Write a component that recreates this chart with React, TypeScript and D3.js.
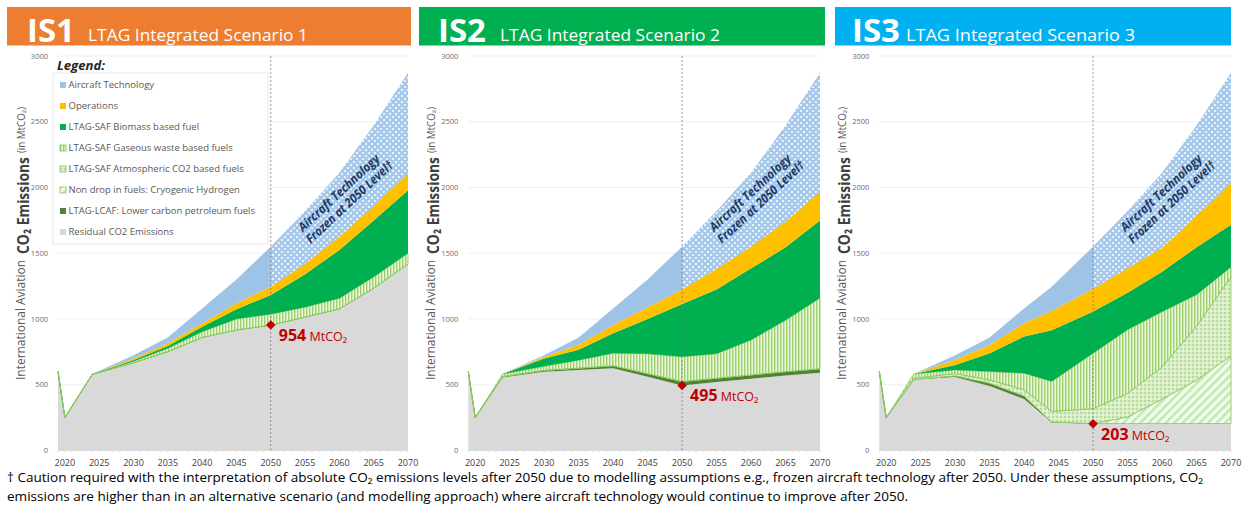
import * as d3 from "d3";

// years that carry a data point (IS3 has its knee one year earlier)
const years = [2019, 2020, 2024, 2030, 2035, 2040, 2045, 2050, 2055, 2060, 2065, 2070];
const yearsIS3 = [2019, 2020, 2024, 2030, 2035, 2040, 2044, 2050, 2055, 2060, 2065, 2070];
const xTickYears = [2020, 2025, 2030, 2035, 2040, 2045, 2050, 2055, 2060, 2065, 2070];
const yTickValues = [0, 500, 1000, 1500, 2000, 2500, 3000];

// stack order, bottom to top
const layerKeys = ["residual", "lcaf", "hydrogen", "atmospheric", "gaseous", "biomass", "operations", "technology"];

// IS1 (MtCO2 per layer)
const is1Residual = [600, 250, 580, 668, 752, 860, 917, 954, 1015, 1078, 1235, 1420];
const is1Lcaf = [0, 0, 0, 0, 0, 0, 0, 0, 0, 0, 0, 0];
const is1Hydrogen = [0, 0, 0, 0, 0, 0, 0, 0, 0, 0, 0, 0];
const is1Atmospheric = [0, 0, 0, 0, 0, 0, 0, 0, 0, 0, 0, 0];
const is1Gaseous = [0, 0, 0, 10, 25, 43, 83, 83, 75, 79, 85, 80];
const is1Biomass = [0, 0, 0, 10, 18, 39, 75, 145, 250, 368, 430, 480];
const is1Operations = [0, 0, 0, 12, 20, 25, 45, 64, 80, 101, 110, 128];
const is1Technology = [0, 0, 2, 25, 45, 113, 180, 304, 400, 484, 610, 762];

// IS2
const is2Residual = [600, 250, 555, 598, 612, 625, 560, 495, 520, 545, 570, 592];
const is2Lcaf = [0, 0, 8, 12, 15, 20, 25, 30, 30, 30, 30, 30];
const is2Hydrogen = [0, 0, 0, 0, 0, 0, 0, 0, 0, 0, 0, 0];
const is2Atmospheric = [0, 0, 0, 0, 0, 0, 0, 0, 0, 0, 0, 0];
const is2Gaseous = [0, 0, 19, 30, 60, 95, 150, 187, 185, 265, 390, 538];
const is2Biomass = [0, 0, 0, 60, 80, 152, 265, 403, 490, 545, 555, 590];
const is2Operations = [0, 0, 0, 12, 38, 63, 90, 110, 155, 165, 195, 220];
const is2Technology = [0, 0, 0, 13, 55, 125, 210, 325, 440, 560, 730, 900];

// IS3
const is3Residual = [600, 250, 540, 558, 490, 392, 212, 205, 205, 205, 205, 205];
const is3Lcaf = [0, 0, 0, 10, 22, 23, 5, 0, 0, 0, 0, 0];
const is3Hydrogen = [0, 0, 0, 0, 0, 0, 0, 0, 50, 185, 330, 515];
const is3Atmospheric = [0, 0, 10, 17, 25, 46, 80, 113, 180, 245, 410, 600];
const is3Gaseous = [0, 0, 32, 28, 63, 127, 228, 422, 483, 420, 240, 75];
const is3Biomass = [0, 0, 0, 38, 140, 279, 390, 317, 282, 305, 360, 321];
const is3Operations = [0, 0, 0, 39, 63, 101, 145, 173, 185, 180, 240, 317];
const is3Technology = [0, 0, 0, 35, 57, 112, 185, 320, 435, 570, 685, 837];

const scenarioIds = ["IS1", "IS2", "IS3"];
const scenarioTitles = ["LTAG Integrated Scenario 1", "LTAG Integrated Scenario 2", "LTAG Integrated Scenario 3"];
const markerValues = [954, 495, 203];

const legendKeys = ["technology", "operations", "biomass", "gaseous", "atmospheric", "hydrogen", "lcaf", "residual"];
const legendLabels = [
  "Aircraft Technology",
  "Operations",
  "LTAG-SAF Biomass based fuel",
  "LTAG-SAF Gaseous waste based fuels",
  "LTAG-SAF Atmospheric CO2 based fuels",
  "Non drop in fuels: Cryogenic Hydrogen",
  "LTAG-LCAF: Lower carbon petroleum fuels",
  "Residual CO2 Emissions",
];

const scenarios = [
  { years, data: [is1Residual, is1Lcaf, is1Hydrogen, is1Atmospheric, is1Gaseous, is1Biomass, is1Operations, is1Technology] },
  { years, data: [is2Residual, is2Lcaf, is2Hydrogen, is2Atmospheric, is2Gaseous, is2Biomass, is2Operations, is2Technology] },
  { years: yearsIS3, data: [is3Residual, is3Lcaf, is3Hydrogen, is3Atmospheric, is3Gaseous, is3Biomass, is3Operations, is3Technology] },
];

const fills: Record<string, string> = {
  residual: "#d9d9d9",
  lcaf: "#548235",
  hydrogen: "url(#pat-h2)",
  atmospheric: "url(#pat-atm)",
  gaseous: "url(#pat-gas)",
  biomass: "#00b050",
  operations: "#ffc000",
  technology: "#9dc3e6",
};
const patterned = ["hydrogen", "atmospheric", "gaseous"];

// page layout of each panel
const layouts = [
  { x0: 58, x1: 408, hx: 7, hw: 404, color: "#ed7d31", idX: 27, titleX: 88, titleLen: 220 },
  { x0: 468.3, x1: 820, hx: 419, hw: 406, color: "#00b050", idX: 438, titleX: 500, titleLen: 220 },
  { x0: 879.3, x1: 1231, hx: 835, hw: 396, color: "#00b0f0", idX: 852, titleX: 906, titleLen: 229 },
];

const FONT = "'Open Sans', sans-serif";

function Panel({ idx }: { idx: number }) {
  const L = layouts[idx];
  const sc = scenarios[idx];
  const x = d3.scaleLinear().domain([2019, 2070]).range([L.x0, L.x1]);
  const y = d3.scaleLinear().domain([0, 3000]).range([450.5, 56]);

  const rows = sc.years.map((yr, i) => {
    const r: any = { year: yr };
    layerKeys.forEach((k, j) => (r[k] = sc.data[j][i]));
    return r;
  });
  const stacked = d3.stack<any>().keys(layerKeys)(rows);
  const area = d3
    .area<any>()
    .x((d) => x(d.data.year))
    .y0((d) => y(d[0]))
    .y1((d) => y(d[1]));

  const x50 = x(2050);
  const markerY = y(markerValues[idx]);
  const diamond = d3.symbol().type(d3.symbolSquare).size(46)();
  const allYears = d3.range(2019, 2071);

  return (
    <g>
      <clipPath id={`after-${idx}`}>
        <rect x={x50} y={40} width={L.x1 - x50 + 2} height={420} />
      </clipPath>
      {/* header */}
      <rect x={L.hx} y={7} width={L.hw} height={38.5} fill={L.color} />
      <text x={L.idX} y={41.5} fill="#fff" fontFamily={FONT} fontWeight={700} fontSize={33}>
        {scenarioIds[idx]}
      </text>
      <text x={L.titleX} y={40.7} fill="#fff" fontFamily={FONT} fontSize={16.5} textLength={L.titleLen} lengthAdjust="spacingAndGlyphs">
        {scenarioTitles[idx]}
      </text>

      {/* gridlines + y labels */}
      {yTickValues.map((v) => (
        <g key={v}>
          {v > 0 && <line x1={L.x0} x2={L.x1} y1={y(v)} y2={y(v)} stroke="#efefef" strokeWidth={1} />}
          <text x={L.x0 - 10} y={y(v) + 2.5} textAnchor="end" fontFamily={FONT} fontSize={7.5} fill="#6d6d6d">
            {v}
          </text>
        </g>
      ))}

      {/* stacked areas */}
      {stacked.map((s) => (
        <path
          key={s.key}
          d={area(s) || ""}
          fill={fills[s.key]}
          stroke={patterned.includes(s.key) ? "#84c65a" : "none"}
          strokeWidth={0.8}
          strokeLinejoin="round"
        />
      ))}
      {/* frozen technology after 2050 */}
      <path d={area(stacked[stacked.length - 1]) || ""} fill="url(#pat-tech)" clipPath={`url(#after-${idx})`} />

      {/* x axis */}
      <line x1={L.x0} x2={L.x1} y1={y(0)} y2={y(0)} stroke="#d9d9d9" />
      {allYears.map((yr) => (
        <line key={yr} x1={x(yr)} x2={x(yr)} y1={y(0)} y2={y(0) + 2} stroke="#d9d9d9" strokeWidth={0.8} />
      ))}
      {xTickYears.map((yr) => (
        <text key={yr} x={x(yr)} y={466} textAnchor="middle" fontFamily={FONT} fontSize={9} fill="#404040">
          {yr}
        </text>
      ))}

      {/* 2050 divider */}
      <line x1={x50} x2={x50} y1={y(3000)} y2={y(0)} stroke="#7f7f7f" strokeWidth={0.8} strokeDasharray="2,2" />

      {/* annotation */}
      <g transform={`translate(${x50 + 71},196) rotate(-43)`} fontFamily={FONT} fontWeight={700} fontStyle="italic" fill="#203864" fontSize={12.5}>
        <text x={0} y={0} textAnchor="middle" textLength={106} lengthAdjust="spacingAndGlyphs">
          Aircraft Technology
        </text>
        <text x={1.5} y={14} textAnchor="middle" textLength={114} lengthAdjust="spacingAndGlyphs">
          Frozen at 2050 Level†
        </text>
      </g>

      {/* residual marker */}
      <path d={diamond || ""} transform={`translate(${x50},${markerY}) rotate(45)`} fill="#c00000" />
      <text x={x50 + 8} y={markerY + 16} fill="#c00000" fontFamily={FONT}>
        <tspan fontWeight={700} fontSize={16}>
          {markerValues[idx]}
        </tspan>
        <tspan fontSize={12.5}> MtCO₂</tspan>
      </text>

      {/* y axis title */}
      <g transform={`translate(${L.x0},0) rotate(-90)`} fontFamily={FONT}>
        <text x={-380} y={-33} fontSize={12} fill="#595959" textLength={120} lengthAdjust="spacingAndGlyphs">
          International Aviation
        </text>
        <text x={-254} y={-29.5} fontSize={16} fontWeight={700} fill="#404040" textLength={97} lengthAdjust="spacingAndGlyphs">
          CO₂ Emissions
        </text>
        <text x={-153} y={-33} fontSize={10} fill="#595959" textLength={46} lengthAdjust="spacingAndGlyphs">
          (in MtCO₂)
        </text>
      </g>
    </g>
  );
}

function Legend() {
  const rowY = (i: number) => 85 + i * 21;
  return (
    <g fontFamily={FONT}>
      <rect x={53} y={73} width={215} height={171} fill="#fff" stroke="#e3e3e3" strokeWidth={0.8} />
      <text x={57} y={69.5} fontSize={12.5} fontWeight={700} fontStyle="italic" fill="#262626" textLength={48} lengthAdjust="spacingAndGlyphs">
        Legend:
      </text>
      {legendKeys.map((k, i) => (
        <g key={k}>
          <rect
            x={60}
            y={rowY(i) - 3}
            width={6}
            height={6}
            fill={k === "residual" ? "#d9d9d9" : fills[k]}
            stroke={patterned.includes(k) ? "#84c65a" : "none"}
            strokeWidth={0.8}
          />
          <text x={68.5} y={rowY(i) + 3.3} fontSize={9.5} fill="#595959">
            {legendLabels[i]}
          </text>
        </g>
      ))}
    </g>
  );
}

export default function App() {
  return (
    <svg width={1244} height={508} style={{ position: "absolute", left: 0, top: 0, background: "#fff" }}>
      <defs>
        <pattern id="pat-gas" width={3} height={6} patternUnits="userSpaceOnUse">
          <rect width={3} height={6} fill="#eaf6de" />
          <rect width={1.4} height={6} fill="#9bd168" />
        </pattern>
        <pattern id="pat-atm" width={4} height={4} patternUnits="userSpaceOnUse">
          <rect width={4} height={4} fill="#d8edc5" />
          <circle cx={1} cy={1} r={0.8} fill="#8dc663" />
          <circle cx={3} cy={3} r={0.8} fill="#f7fcf2" />
        </pattern>
        <pattern id="pat-h2" width={6} height={6} patternUnits="userSpaceOnUse" patternTransform="rotate(45)">
          <rect width={6} height={6} fill="#f3fbef" />
          <rect width={2.6} height={6} fill="#bfeab0" />
        </pattern>
        <pattern id="pat-tech" width={6} height={6} patternUnits="userSpaceOnUse">
          <rect width={6} height={6} fill="#a2c6ea" />
          <circle cx={0} cy={0} r={1.35} fill="#e6f0fa" />
          <circle cx={6} cy={0} r={1.35} fill="#e6f0fa" />
          <circle cx={0} cy={6} r={1.35} fill="#e6f0fa" />
          <circle cx={6} cy={6} r={1.35} fill="#e6f0fa" />
          <circle cx={3} cy={3} r={1.35} fill="#e6f0fa" />
        </pattern>
      </defs>
      {[0, 1, 2].map((i) => (
        <Panel key={i} idx={i} />
      ))}
      <Legend />
      <g fontFamily="'Liberation Sans Narrow', 'Open Sans', sans-serif" fontSize={13} fill="#000">
        <text x={7} y={482} textLength={1196} lengthAdjust="spacingAndGlyphs">
          † Caution required with the interpretation of absolute CO₂ emissions levels after 2050 due to modelling assumptions e.g., frozen aircraft technology after 2050. Under these assumptions, CO₂
        </text>
        <text x={7} y={500.5} textLength={901} lengthAdjust="spacingAndGlyphs">
          emissions are higher than in an alternative scenario (and modelling approach) where aircraft technology would continue to improve after 2050.
        </text>
      </g>
    </svg>
  );
}
